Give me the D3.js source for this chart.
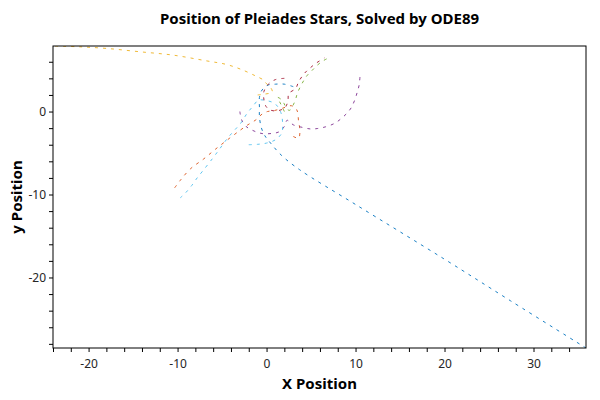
<!DOCTYPE html>
<html lang="en">
<head>
<meta charset="UTF-8">
<title>Position of Pleiades Stars</title>
<style>
  body { margin: 0; padding: 0; background: #fff; }
  svg text { font-family: "Segoe UI", "Noto Sans", "Open Sans", sans-serif; }
</style>
</head>
<body>
<script src="https://cdn.jsdelivr.net/npm/d3@7"></script>
<script>
// star paths, [x, y]
const star1 = [[3,3],[2,3.3],[1,3.3],[0.2,3.2],[-0.5,2.6],[-0.8,1.7],[-0.8,0.5],[-0.8,-0.6],[-0.6,-1.9],
  [-0.2,-2.9],[0.45,-3.8],[1.7,-5.3],[3.7,-7.0],[10,-11.2],[20,-17.8],[27.4,-22.8],[35.9,-28.5]];
const star2 = [[3,-3],[3.6,-3.2],[3.75,-2.3],[3.6,-1.2],[3.4,0.2],[2.8,0.7],[1.8,0.4],[0.8,0.1],[0.1,0.0],
  [-0.5,-0.3],[-1.2,-1.0],[-2.1,-1.6],[-2.9,-2.2],[-4.2,-3.25],[-5.7,-4.5],[-7.05,-5.7],[-8.55,-6.9],
  [-9.7,-8.3],[-10.4,-9.3]];
const star3 = [[-1,2],[-0.2,2.1],[0.64,2.36],[0.45,2.9],[0,3.35],[-0.35,3.8],[-1.25,4.3],[-2.9,5.1],
  [-4.6,5.7],[-6.7,6.1],[-10.5,6.8],[-14.2,7.2],[-17.9,7.6],[-21,7.8],[-24,7.9]];
const star4 = [[-3,0],[-2.8,-1.0],[-2.3,-1.8],[-1.4,-2.35],[-0.5,-2.65],[0.5,-2.65],[1.4,-2.45],[2.0,-1.8],
  [2.3,-1.05],[2.6,-1.25],[3.0,-1.6],[3.8,-1.85],[4.95,-2.1],[5.7,-2.05],[6.6,-1.85],[7.6,-1.45],
  [8.3,-0.93],[9.0,-0.24],[9.5,0.43],[9.9,1.36],[10.2,2.36],[10.4,3.17],[10.5,4.2]];
const star5 = [[2,0],[1.6,0.9],[1.25,1.7],[1.6,1.5],[1.95,1.0],[2.3,0.3],[2.6,0.15],[3.0,0.8],[3.3,1.6],
  [3.45,2.17],[3.8,3.0],[4.2,3.77],[4.58,4.37],[5.14,4.98],[5.7,5.58],[6.27,6.06],[6.83,6.39]];
const star6 = [[-2,-4],[-1,-3.95],[0,-3.8],[1,-3.4],[1.7,-2.6],[1.8,-1.3],[1.6,-0.1],[1.0,0.9],[0.1,1.3],
  [-0.9,1.36],[-1.6,0.55],[-2.2,-0.24],[-2.9,-1.4],[-3.6,-2.25],[-4.3,-3.1],[-4.8,-3.8],[-5.4,-4.7],
  [-6.1,-5.7],[-7.2,-7.2],[-7.8,-8.0],[-8.4,-8.9],[-9.1,-9.8],[-9.7,-10.4]];
const star7 = [[2,4],[1.0,3.85],[0.2,3.3],[-0.3,2.4],[-0.3,1.5],[-0.05,0.6],[0.5,0.15],[1.3,0.1],[2.1,0.5],
  [2.4,1.3],[2.5,2.17],[3.26,2.77],[3.6,3.57],[4.0,4.25],[4.4,4.77],[4.95,5.3],[5.5,5.78],[6.07,6.18],[6.5,6.46]];

const stars = [star1, star2, star3, star4, star5, star6, star7];
const colors = ['#0072BD', '#D95319', '#EDB120', '#7E2F8E', '#77AC30', '#4DBEEE', '#A2142F'];

const xTickLabels = [-20, -10, 0, 10, 20, 30];
const yTickLabels = [-20, -10, 0];

const width = 600, height = 400;
const margin = { top: 46, right: 14, bottom: 52, left: 53 };
const iw = width - margin.left - margin.right;
const ih = height - margin.top - margin.bottom;

const svg = d3.select('body').append('svg')
  .attr('width', width).attr('height', height);

const all = stars.flat();
const x = d3.scaleLinear().domain(d3.extent(all, d => d[0])).range([0, iw]);
const y = d3.scaleLinear().domain(d3.extent(all, d => d[1])).range([ih, 0]);

const g = svg.append('g').attr('transform', `translate(${margin.left},${margin.top})`);

g.append('clipPath').attr('id', 'clip')
  .append('rect').attr('width', iw).attr('height', ih);

// paths
const line = d3.line().x(d => x(d[0])).y(d => y(d[1])).curve(d3.curveCatmullRom.alpha(0.5));
g.append('g').attr('clip-path', 'url(#clip)')
  .selectAll('path')
  .data(stars)
  .join('path')
  .attr('d', line)
  .attr('fill', 'none')
  .attr('stroke', (d, i) => colors[i])
  .attr('stroke-width', 0.9)
  .attr('stroke-dasharray', '3,5');

// axes, minor ticks every 2
const xMinor = d3.range(Math.ceil(x.domain()[0] / 2) * 2, x.domain()[1], 2);
const yMinor = d3.range(Math.ceil(y.domain()[0] / 2) * 2, y.domain()[1], 2);

const xAxis = g.append('g').attr('transform', `translate(0,${ih})`)
  .call(d3.axisBottom(x).tickValues(xMinor).tickSize(4)
    .tickFormat(d => xTickLabels.includes(d) ? String(d) : ''));
const yAxis = g.append('g')
  .call(d3.axisLeft(y).tickValues(yMinor).tickSize(4)
    .tickFormat(d => yTickLabels.includes(d) ? String(d) : ''));

[xAxis, yAxis].forEach(a => {
  a.select('.domain').remove();
  a.selectAll('.tick line').attr('stroke', '#000');
  a.selectAll('.tick text').attr('fill', '#262626').attr('font-size', 12)
    .style('font-family', '"Segoe UI", "Noto Sans", sans-serif');
});
xAxis.selectAll('.tick text').attr('dy', '1.1em');

// box
g.append('rect').attr('width', iw).attr('height', ih)
  .attr('fill', 'none').attr('stroke', '#000').attr('stroke-width', 1);

// titles
svg.append('text')
  .attr('x', margin.left + iw / 2).attr('y', 24)
  .attr('text-anchor', 'middle')
  .attr('font-size', 15).attr('font-weight', 'bold')
  .text('Position of Pleiades Stars, Solved by ODE89');

svg.append('text')
  .attr('x', margin.left + iw / 2).attr('y', 389)
  .attr('text-anchor', 'middle')
  .attr('font-size', 15).attr('font-weight', 'bold')
  .text('X Position');

svg.append('text')
  .attr('transform', `translate(22,${margin.top + ih / 2}) rotate(-90)`)
  .attr('text-anchor', 'middle')
  .attr('font-size', 15).attr('font-weight', 'bold')
  .text('y Position');
</script>
</body>
</html>
